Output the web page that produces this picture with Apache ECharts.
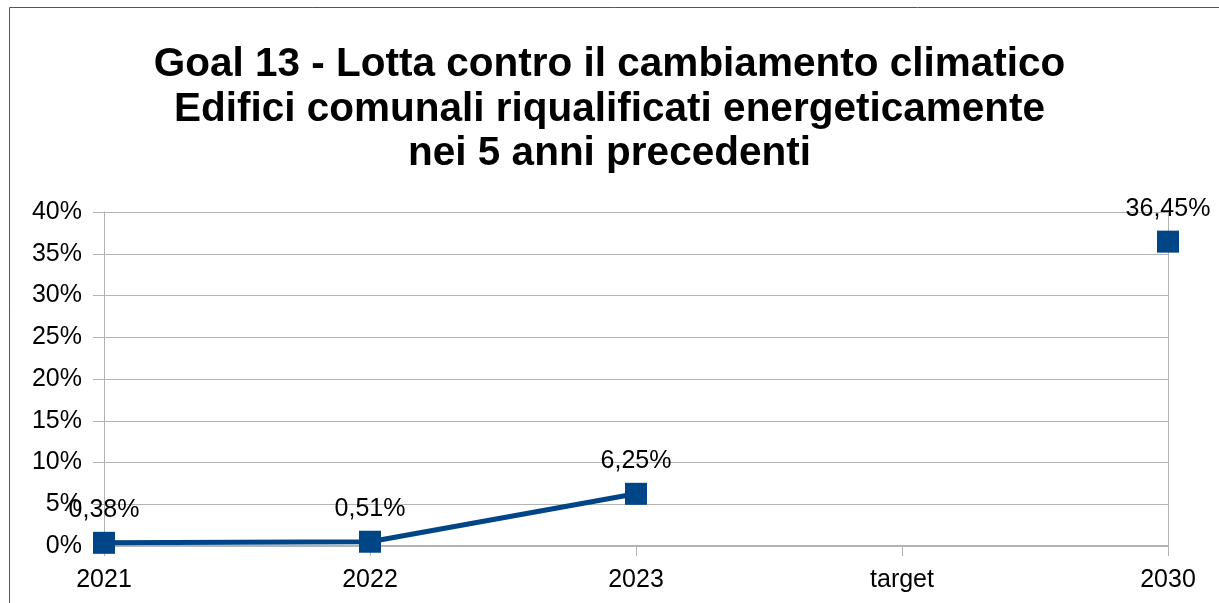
<!DOCTYPE html>
<html>
<head>
<meta charset="utf-8">
<script src="https://cdn.jsdelivr.net/npm/echarts@6/dist/echarts.min.js"></script>
<style>
html,body{margin:0;padding:0;background:#fff;}
#chart{width:1219px;height:603px;}
</style>
</head>
<body>
<div id="chart"></div>
<script>
const titleLines = ["Goal 13 - Lotta contro il cambiamento climatico", "Edifici comunali riqualificati energeticamente", "nei 5 anni precedenti"];
const categories = ["2021", "2022", "2023", "target", "2030"];
const values = [0.38, 0.51, 6.25, null, 36.45];
const yTicks = { min: 0, max: 40, interval: 5 };

const FONT = "'Liberation Sans', Arial, sans-serif";
const fmt = v => String(v).replace('.', ',') + '%';

const chart = echarts.init(document.getElementById('chart'), null, { renderer: 'canvas' });
chart.setOption({
  backgroundColor: '#ffffff',
  animation: false,
  graphic: [{
    type: 'rect', silent: true, z: -1,
    shape: { x: 9.5, y: 7.5, width: 1400, height: 800 },
    style: { fill: 'none', stroke: '#555555', lineWidth: 1 }
  }],
  title: {
    text: titleLines.join('\n'),
    left: 'center', top: 43, padding: 0,
    textStyle: { fontFamily: FONT, fontSize: 40.5, fontWeight: 'bold', color: '#000', lineHeight: 44.5 }
  },
  grid: { left: 104, right: 51, top: 212, bottom: 57, containLabel: false },
  xAxis: {
    type: 'category', data: categories, boundaryGap: false,
    axisLine: { show: true, lineStyle: { color: '#b3b3b3', width: 2 } },
    axisTick: { show: true, length: 10, lineStyle: { color: '#b3b3b3', width: 1 } },
    axisLabel: { fontFamily: FONT, fontSize: 25, color: '#000', margin: 22 },
    splitLine: { show: false }
  },
  yAxis: [{
    type: 'value', min: yTicks.min, max: yTicks.max, interval: yTicks.interval,
    axisLine: { show: true, lineStyle: { color: '#b3b3b3', width: 1 } },
    axisTick: { show: true, length: 11, lineStyle: { color: '#b3b3b3' } },
    axisLabel: { fontFamily: FONT, fontSize: 25, color: '#000', margin: 22, formatter: v => v + '%' },
    splitLine: { show: true, lineStyle: { color: '#b3b3b3', width: 1 } }
  }, {
    type: 'value', min: yTicks.min, max: yTicks.max, interval: yTicks.interval, position: 'right',
    axisLine: { show: true, lineStyle: { color: '#b3b3b3', width: 1 } },
    axisTick: { show: false }, axisLabel: { show: false }, splitLine: { show: false }
  }],
  series: [{
    type: 'line', data: values, connectNulls: false,
    symbol: 'rect', symbolSize: 22, showAllSymbol: true,
    lineStyle: { color: '#004586', width: 5 },
    itemStyle: { color: '#004586' },
    label: { show: true, position: 'top', distance: 9, fontFamily: FONT, fontSize: 25, color: '#000',
      formatter: p => fmt(p.value) }
  }]
});
</script>
</body>
</html>
